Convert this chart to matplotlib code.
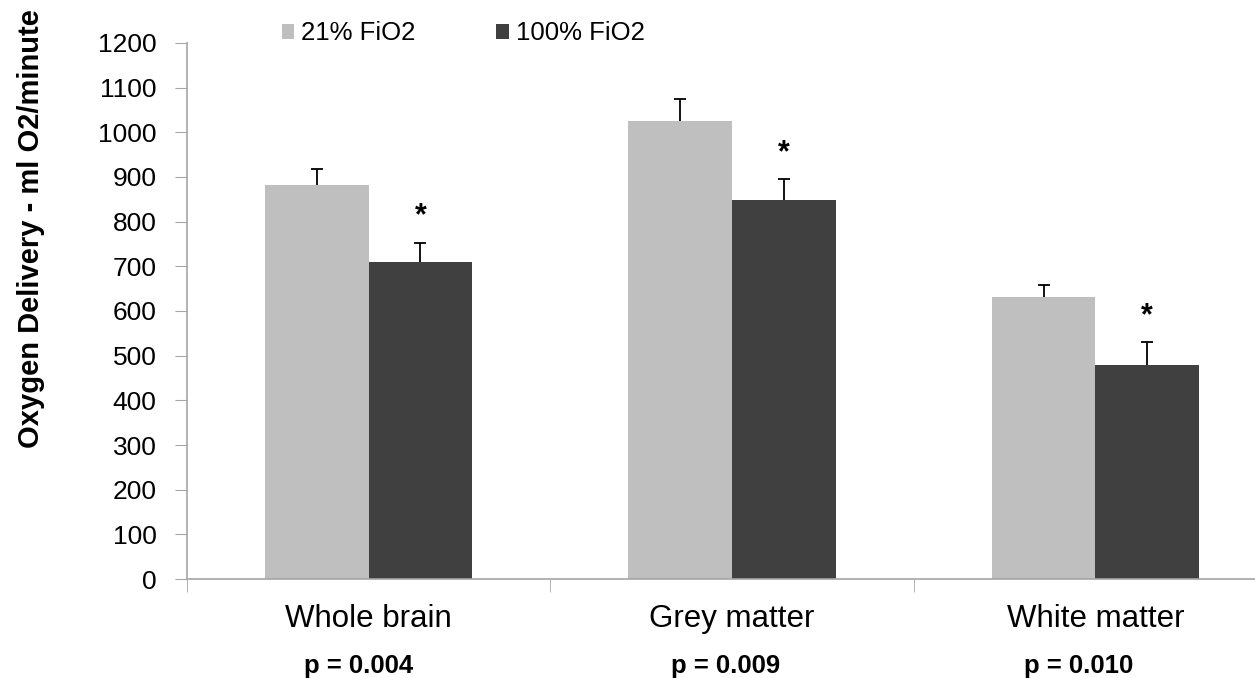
import matplotlib.pyplot as plt
import matplotlib.transforms as mtransforms
import numpy as np

plt.rcParams['font.family'] = ['Liberation Sans', 'DejaVu Sans']

# oxygen delivery per region (ml O2/minute), mean and upper error
regions = ["Whole brain", "Grey matter", "White matter"]
air_mean = [881, 1025, 631]
air_err = [37, 49, 28]
oxy_mean = [709, 849, 478]
oxy_err = [44, 47, 53]
p_values = ["p = 0.004", "p = 0.009", "p = 0.010"]
series_labels = ["21% FiO2", "100% FiO2"]

light = '#BFBFBF'
dark = '#404040'
spine_grey = '#A6A6A6'

fig = plt.figure(figsize=(12.55, 6.78), dpi=100)
# axes run past the right edge so the x axis line reaches the border
ax = fig.add_axes([0.149, 0.146, 0.8685, 0.7906])

x = np.arange(len(regions))
w = 0.285
ax.bar(x - w / 2, air_mean, w, color=light, label=series_labels[0], zorder=2)
ax.bar(x + w / 2, oxy_mean, w, color=dark, label=series_labels[1], zorder=2)

# upper error bars only, lower cap hidden
for xs, m, e in [(x - w / 2, air_mean, air_err), (x + w / 2, oxy_mean, oxy_err)]:
    eb = ax.errorbar(xs, m, yerr=[np.zeros(len(e)), e], fmt='none',
                     ecolor='black', elinewidth=1.3, capsize=4.5,
                     capthick=1.3, zorder=3)
    eb[1][0].set_visible(False)

# significance stars above the 100% bars
for xi, m, e in zip(x, oxy_mean, oxy_err):
    ax.text(xi + w / 2, m + e + 58, "*", ha='center', va='center',
            fontsize=22, fontweight='bold')

ax.set_xlim(-0.5, 2.5)
ax.set_ylim(0, 1200)
ax.set_yticks(range(0, 1201, 100))
ax.tick_params(axis='y', labelsize=19, length=9, color=spine_grey, pad=13)

ax.set_xticks(x)
ax.set_xticklabels(regions)
ax.set_xticks([-0.5, 0.5, 1.5, 2.5], minor=True)
ax.tick_params(axis='x', which='major', length=0, labelsize=22.5, pad=18)
ax.tick_params(axis='x', which='minor', length=9, color=spine_grey)

for side in ['top', 'right']:
    ax.spines[side].set_visible(False)
for side in ['left', 'bottom']:
    ax.spines[side].set_color(spine_grey)
    ax.spines[side].set_linewidth(1.2)

# p-values under the category names
trans = mtransforms.blended_transform_factory(ax.transData, fig.transFigure)
p_shift = [-0.028, -0.019, -0.046]
for xi, s, p in zip(x, p_shift, p_values):
    ax.text(xi + s, 0.008, p, transform=trans, ha='center', va='baseline',
            fontsize=18.5, fontweight='bold')

fig.text(0.0247, 0.663, "Oxygen Delivery - ml O2/minute", rotation=90,
         ha='center', va='center', fontsize=21, fontweight='bold')

ax.legend(loc='center left', bbox_to_anchor=(0.2245, 0.9506),
          bbox_transform=fig.transFigure, ncol=2, frameon=False,
          fontsize=18.5, handlelength=0.49, handleheight=0.49,
          handletextpad=0.26, columnspacing=3.15, borderpad=0,
          borderaxespad=0)

fig.savefig("out.png", dpi=100)
